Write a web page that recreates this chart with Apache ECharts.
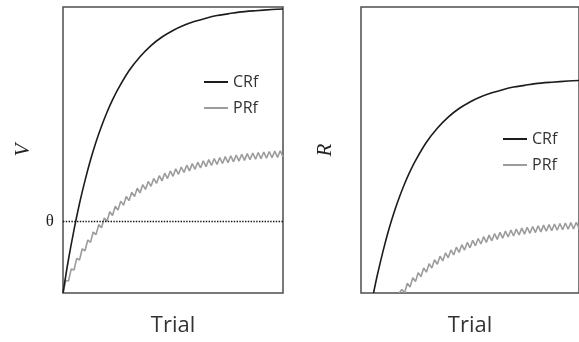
<!DOCTYPE html>
<html>
<head>
<meta charset="utf-8">
<script src="https://cdn.jsdelivr.net/npm/echarts@6/dist/echarts.min.js"></script>
<style>
  html, body { margin: 0; padding: 0; background: #fff; }
  #chart { width: 579px; height: 342px; }
</style>
</head>
<body>
<div id="chart"></div>
<script>
// Associative strength V and response R across trials,
// for continuous (CRf) and partial (PRf) reinforcement.

const trialMax = 80;
const theta = 0.25;              // response threshold on V

// CRf: associative strength, sampled at these trials
const crfTrials = [0, 2, 4, 6, 8, 10, 12, 14, 16, 18, 20, 24, 28, 32, 36, 40, 44, 48, 52, 56, 60, 64, 70, 76, 80];
const crfV = [0, 0.118, 0.221, 0.313, 0.393, 0.465, 0.528, 0.583, 0.632, 0.675, 0.713, 0.777, 0.826, 0.865,
  0.895, 0.918, 0.936, 0.950, 0.961, 0.970, 0.976, 0.982, 0.987, 0.991, 0.993];

// PRf: associative strength on every trial 0..80 (reinforced / non-reinforced alternate)
const prfV = [0, 0.0440, 0.0421, 0.0842, 0.0805, 0.1210, 0.1156, 0.1545, 0.1478, 0.1853,
  0.1771, 0.2133, 0.2040, 0.2390, 0.2284, 0.2624, 0.2508, 0.2838, 0.2713, 0.3034,
  0.2900, 0.3212, 0.3071, 0.3376, 0.3228, 0.3526, 0.3370, 0.3662, 0.3501, 0.3787,
  0.3621, 0.3902, 0.3730, 0.4006, 0.3829, 0.4101, 0.3920, 0.4188, 0.4003, 0.4267,
  0.4080, 0.4340, 0.4149, 0.4406, 0.4213, 0.4468, 0.4271, 0.4523, 0.4324, 0.4574,
  0.4372, 0.4620, 0.4417, 0.4663, 0.4457, 0.4701, 0.4494, 0.4736, 0.4528, 0.4769,
  0.4559, 0.4798, 0.4587, 0.4825, 0.4613, 0.4850, 0.4637, 0.4873, 0.4658, 0.4893,
  0.4678, 0.4912, 0.4696, 0.4929, 0.4713, 0.4946, 0.4728, 0.4960, 0.4741, 0.4972,
  0.4754];

// CRf: response strength (zero until V passes the threshold)
const crfRTrials = [4.6, 6, 8, 10, 12, 14, 16, 18, 20, 24, 28, 32, 36, 40, 44, 48, 52, 56, 60, 64, 70, 76, 80];
const crfR = [0, 0.063, 0.143, 0.215, 0.278, 0.333, 0.382, 0.425, 0.463, 0.527, 0.576, 0.615, 0.645,
  0.668, 0.686, 0.700, 0.711, 0.720, 0.726, 0.732, 0.737, 0.741, 0.743];

// PRf: response strength from trial 14 onward
const prfRStart = 14;
const prfR = [0, 0.0124, 0.0008, 0.0338, 0.0213, 0.0534, 0.0400, 0.0712, 0.0571, 0.0876,
  0.0728, 0.1026, 0.0870, 0.1162, 0.1001, 0.1287, 0.1121, 0.1402, 0.1230, 0.1506,
  0.1329, 0.1601, 0.1420, 0.1688, 0.1503, 0.1767, 0.1580, 0.1840, 0.1649, 0.1906,
  0.1713, 0.1968, 0.1771, 0.2023, 0.1824, 0.2074, 0.1872, 0.2120, 0.1917, 0.2163,
  0.1957, 0.2201, 0.1994, 0.2236, 0.2028, 0.2269, 0.2059, 0.2298, 0.2087, 0.2325,
  0.2113, 0.2350, 0.2137, 0.2373, 0.2158, 0.2393, 0.2178, 0.2412, 0.2196, 0.2429,
  0.2213, 0.2446, 0.2228, 0.2460, 0.2241, 0.2472, 0.2254];

const panelYNames = ['V', 'R'];
const xName = 'Trial';
const seriesNames = ['CRf', 'PRf'];

const crfColor = '#1c1c1c';
const prfColor = '#9c9c9c';
const frameColor = '#4d4d4d';
const sansFont = '"Open Sans", "Noto Sans", sans-serif';
const serifFont = '"Liberation Serif", "DejaVu Serif", serif';

const zip = (xs, ys) => ys.map((y, i) => [xs[i], y]);

function makeXAxis(idx) {
  return {
    gridIndex: idx, type: 'value', min: 0, max: trialMax,
    name: xName, nameLocation: 'middle', nameGap: 22,
    nameTextStyle: { fontFamily: sansFont, fontSize: 22, color: '#333' },
    axisLine: { show: false }, axisTick: { show: false },
    axisLabel: { show: false }, splitLine: { show: false }
  };
}
function makeYAxis(idx) {
  return {
    gridIndex: idx, type: 'value', min: 0, max: 1,
    name: panelYNames[idx], nameLocation: 'middle', nameRotate: 90,
    nameGap: idx === 0 ? 29 : 25,
    nameTextStyle: { fontFamily: serifFont, fontStyle: 'italic', fontSize: 21, color: '#222' },
    axisLine: { show: false }, axisTick: { show: false },
    axisLabel: { show: false }, splitLine: { show: false }
  };
}
function makeLegend(left, top) {
  return {
    data: seriesNames, orient: 'vertical', left: left, top: top,
    icon: 'rect', itemWidth: 24, itemHeight: 2, itemGap: 8,
    textStyle: { fontFamily: sansFont, fontSize: 16, color: '#333', lineHeight: 18 },
    selectedMode: false
  };
}

const chart = echarts.init(document.getElementById('chart'), null, { renderer: 'canvas' });
chart.setOption({
  animation: false,
  backgroundColor: '#fff',
  grid: [
    { left: 63, top: 7, width: 220, height: 294, show: true, borderColor: frameColor, borderWidth: 1.5 },
    { left: 361, top: 7, width: 220, height: 294, show: true, borderColor: frameColor, borderWidth: 1.5 }
  ],
  xAxis: [makeXAxis(0), makeXAxis(1)],
  yAxis: [makeYAxis(0), makeYAxis(1)],
  legend: [makeLegend(199, 68), makeLegend(498, 125)],
  series: [
    {
      name: seriesNames[0], type: 'line', xAxisIndex: 0, yAxisIndex: 0,
      data: zip(crfTrials, crfV), smooth: 0.3, showSymbol: false, color: crfColor,
      lineStyle: { width: 1.6, color: crfColor }, z: 3,
      markLine: {
        silent: true, symbol: 'none', animation: false,
        lineStyle: { color: '#111', type: 'dotted', width: 1.4 },
        label: { show: true, position: 'start', formatter: 'θ', distance: 9,
                 fontFamily: serifFont, fontSize: 17, color: '#222' },
        data: [{ yAxis: theta }]
      }
    },
    {
      name: seriesNames[1], type: 'line', xAxisIndex: 0, yAxisIndex: 0,
      data: prfV.map((v, i) => [i, v]), showSymbol: false, color: prfColor,
      lineStyle: { width: 1.6, color: prfColor }, z: 2
    },
    {
      name: seriesNames[0], type: 'line', xAxisIndex: 1, yAxisIndex: 1,
      data: zip(crfRTrials, crfR), smooth: 0.3, showSymbol: false, color: crfColor,
      lineStyle: { width: 1.6, color: crfColor }, z: 3
    },
    {
      name: seriesNames[1], type: 'line', xAxisIndex: 1, yAxisIndex: 1,
      data: prfR.map((v, i) => [prfRStart + i, v]), showSymbol: false, color: prfColor,
      lineStyle: { width: 1.6, color: prfColor }, z: 2
    }
  ]
});
</script>
</body>
</html>
